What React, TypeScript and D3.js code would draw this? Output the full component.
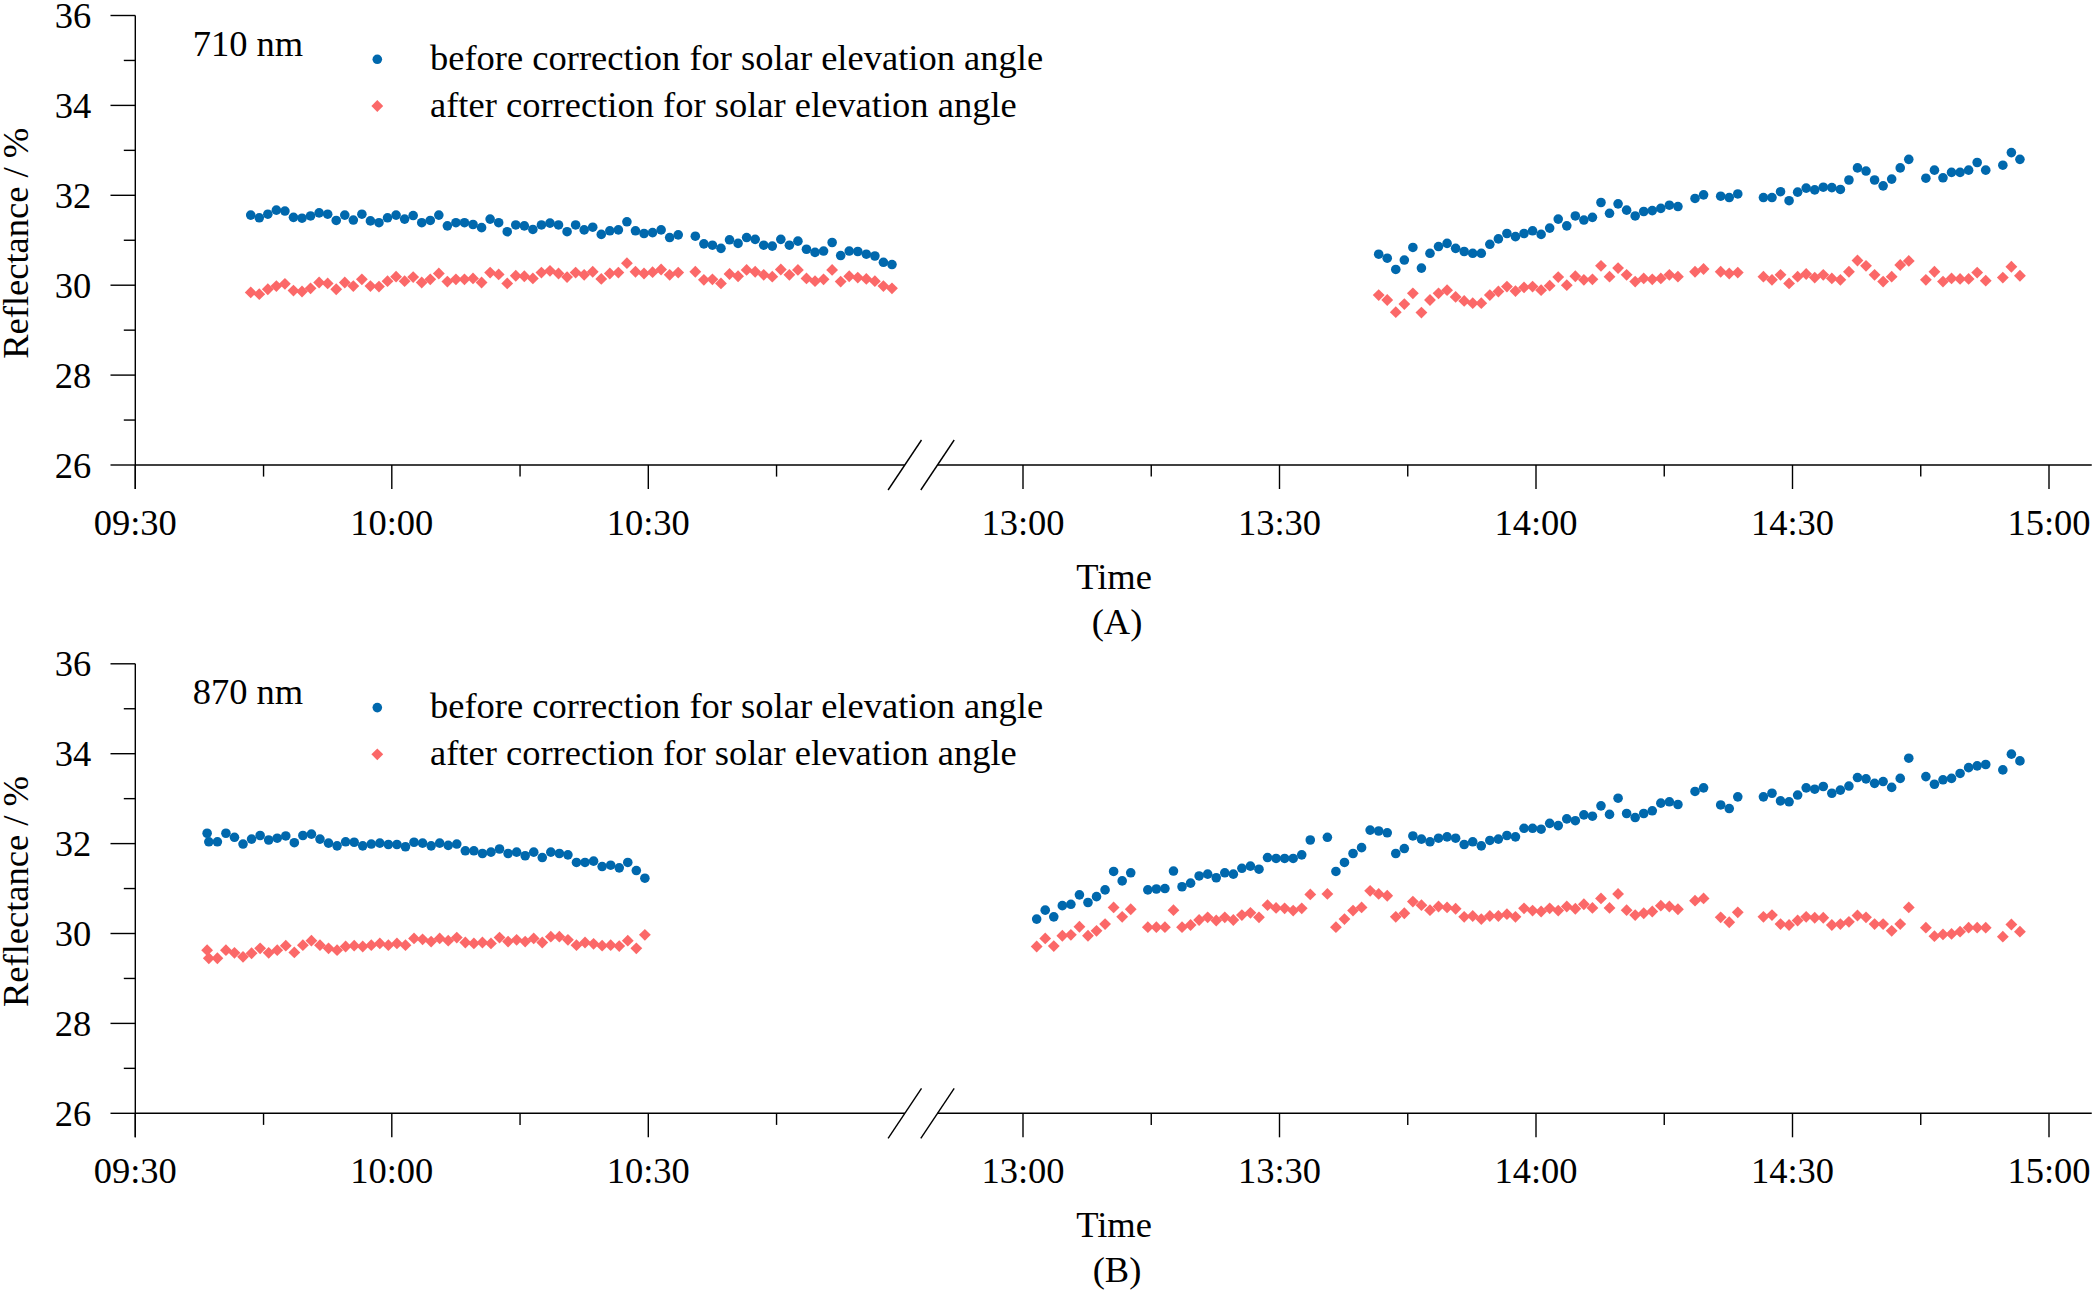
import * as d3 from "d3";
import { useEffect } from "react";

const W = 2092;
const H = 1293;

const BLUE = "#0068ad";
const RED = "#fb6868";
const FONT = "'Times New Roman', 'Liberation Serif', serif";
const FONT_SIZE = 36.5;

// axis labels
const X_MAJOR = ["09:30", "10:00", "10:30", "13:00", "13:30", "14:00", "14:30", "15:00"];
const X_MINOR = ["09:45", "10:15", "10:45", "13:15", "13:45", "14:15", "14:45"];
const Y_MAJOR = [26, 28, 30, 32, 34, 36];
const Y_MINOR = [27, 29, 31, 33, 35];
const SERIES_NAMES = [
  "before correction for solar elevation angle",
  "after correction for solar elevation angle",
];

// (A) 710 nm, morning run, one reading per minute (null = missing)
const A_AM_START = "09:43:30";
const A_AM_BEFORE = [
  31.56, 31.5, 31.58, 31.67, 31.65, 31.51, 31.49, 31.54, 31.61, 31.58,
  31.44, 31.56, 31.45, 31.58, 31.43, 31.39, 31.5, 31.56, 31.47, 31.55,
  31.39, 31.44, 31.56, 31.32, 31.39, 31.39, 31.35, 31.28, 31.47, 31.39,
  31.19, 31.34, 31.32, 31.24, 31.34, 31.38, 31.34, 31.19, 31.34, 31.23,
  31.29, 31.13, 31.21, 31.23, 31.41, 31.21, 31.15, 31.17, 31.23, 31.06,
  31.12, null, 31.09, 30.92, 30.89, 30.82, 31.01, 30.93, 31.06, 31.02,
  30.89, 30.87, 31.02, 30.89, 30.98, 30.8, 30.73, 30.76, 30.95, 30.66,
  30.76, 30.75, 30.69, 30.65, 30.51, 30.46,
];
const A_AM_AFTER = [
  29.84, 29.8, 29.91, 29.98, 30.03, 29.88, 29.86, 29.93, 30.06, 30.04,
  29.91, 30.06, 29.98, 30.13, 29.98, 29.97, 30.09, 30.19, 30.09, 30.18,
  30.06, 30.13, 30.26, 30.08, 30.13, 30.13, 30.15, 30.06, 30.28, 30.24,
  30.04, 30.21, 30.2, 30.15, 30.28, 30.32, 30.26, 30.18, 30.28, 30.23,
  30.3, 30.14, 30.26, 30.28, 30.49, 30.3, 30.26, 30.29, 30.35, 30.23,
  30.28, null, 30.3, 30.12, 30.13, 30.04, 30.25, 30.2, 30.34, 30.3,
  30.23, 30.19, 30.35, 30.23, 30.34, 30.15, 30.09, 30.13, 30.34, 30.08,
  30.2, 30.17, 30.14, 30.09, 29.98, 29.93,
];

// (A) 710 nm, afternoon run
const A_PM_START = "13:41:36";
const A_PM_BEFORE = [
  30.69, 30.6, 30.35, 30.56, 30.84, 30.38, 30.71, 30.86, 30.93, 30.82,
  30.75, 30.71, 30.71, 30.91, 31.03, 31.15, 31.08, 31.15, 31.21, 31.13,
  31.27, 31.47, 31.32, 31.54, 31.45, 31.51, 31.84, 31.6, 31.81, 31.67,
  31.54, 31.64, 31.66, 31.71, 31.78, 31.75, null, 31.93, 32.01, null,
  31.98, 31.95, 32.03, null, null, 31.95, 31.95, 32.08, 31.88, 32.07,
  32.16, 32.12, 32.18, 32.17, 32.13, 32.34, 32.61, 32.54, 32.34, 32.21,
  32.36, 32.61, 32.8, null, 32.38, 32.56, 32.39, 32.51, 32.51, 32.56,
  32.73, 32.56, null, 32.67, 32.95, 32.8,
];
const A_PM_AFTER = [
  29.78, 29.67, 29.4, 29.58, 29.82, 29.39, 29.67, 29.82, 29.89, 29.74,
  29.65, 29.6, 29.6, 29.78, 29.86, 29.97, 29.87, 29.95, 29.97, 29.89,
  29.99, 30.18, 30.0, 30.2, 30.12, 30.13, 30.43, 30.19, 30.38, 30.23,
  30.08, 30.15, 30.13, 30.15, 30.23, 30.19, null, 30.3, 30.36, null,
  30.3, 30.26, 30.28, null, null, 30.19, 30.12, 30.23, 30.04, 30.19,
  30.25, 30.17, 30.23, 30.15, 30.12, 30.3, 30.55, 30.43, 30.23, 30.08,
  30.19, 30.45, 30.54, null, 30.12, 30.3, 30.08, 30.15, 30.14, 30.14,
  30.28, 30.1, null, 30.17, 30.41, 30.21,
];

// (B) 870 nm, morning run (plus one extra reading just before the first one)
const B_AM_EXTRA_TIME = "09:38:24";
const B_AM_EXTRA_BEFORE = 32.23;
const B_AM_EXTRA_AFTER = 29.63;
const B_AM_START = "09:38:36";
const B_AM_BEFORE = [
  32.04, 32.04, 32.23, 32.14, 31.99, 32.1, 32.18, 32.08, 32.12, 32.17,
  32.02, 32.18, 32.21, 32.1, 32.01, 31.95, 32.04, 32.03, 31.95, 31.99,
  32.01, 31.98, 31.98, 31.93, 32.03, 32.01, 31.95, 32.01, 31.96, 31.99,
  31.84, 31.84, 31.78, 31.81, 31.88, 31.78, 31.81, 31.73, 31.81, 31.69,
  31.81, 31.78, 31.75, 31.58, 31.58, 31.61, 31.49, 31.52, 31.46, 31.58,
  31.4, 31.23,
];
const B_AM_AFTER = [
  29.45, 29.45, 29.63, 29.57, 29.48, 29.56, 29.67, 29.57, 29.63, 29.73,
  29.58, 29.74, 29.84, 29.74, 29.67, 29.63, 29.71, 29.73, 29.71, 29.74,
  29.78, 29.74, 29.78, 29.74, 29.89, 29.87, 29.82, 29.89, 29.84, 29.91,
  29.8, 29.78, 29.8, 29.78, 29.91, 29.82, 29.86, 29.82, 29.89, 29.8,
  29.93, 29.93, 29.86, 29.74, 29.8, 29.77, 29.73, 29.74, 29.72, 29.84,
  29.67, 29.97,
];

// (B) 870 nm, afternoon run
const B_PM_START = "13:01:36";
const B_PM_BEFORE = [
  30.32, 30.52, 30.37, 30.62, 30.65, 30.86, 30.69, 30.82, 30.97, 31.38,
  31.17, 31.35, null, 30.97, 30.99, 31.0, 31.39, 31.04, 31.12, 31.28,
  31.32, 31.24, 31.35, 31.32, 31.45, 31.5, 31.43, 31.69, 31.67, 31.67,
  31.67, 31.75, 32.08, null, 32.14, 31.38, 31.58, 31.78, 31.91, 32.3,
  32.28, 32.24, 31.78, 31.89, 32.17, 32.1, 32.04, 32.12, 32.15, 32.12,
  31.98, 32.04, 31.95, 32.07, 32.1, 32.18, 32.15, 32.34, 32.34, 32.32,
  32.45, 32.4, 32.55, 32.51, 32.64, 32.61, 32.84, 32.65, 33.01, 32.67,
  32.58, 32.67, 32.73, 32.9, 32.93, 32.87, null, 33.16, 33.24, null,
  32.86, 32.78, 33.04, null, null, 33.04, 33.12, 32.95, 32.93, 33.08,
  33.24, 33.21, 33.27, 33.12, 33.19, 33.28, 33.47, 33.44, 33.34, 33.38,
  33.25, 33.45, 33.9, null, 33.49, 33.32, 33.42, 33.45, 33.56, 33.69,
  33.73, 33.76, null, 33.64, 33.99, 33.84,
];
const B_PM_AFTER = [
  29.71, 29.89, 29.72, 29.95, 29.97, 30.15, 29.95, 30.06, 30.21, 30.58,
  30.37, 30.54, null, 30.14, 30.14, 30.14, 30.52, 30.14, 30.19, 30.3,
  30.36, 30.29, 30.36, 30.3, 30.41, 30.46, 30.36, 30.63, 30.57, 30.56,
  30.51, 30.56, 30.87, null, 30.88, 30.14, 30.32, 30.51, 30.58, 30.95,
  30.88, 30.84, 30.37, 30.45, 30.71, 30.63, 30.52, 30.6, 30.58, 30.55,
  30.37, 30.39, 30.32, 30.39, 30.39, 30.43, 30.37, 30.56, 30.51, 30.49,
  30.56, 30.51, 30.6, 30.55, 30.65, 30.57, 30.78, 30.57, 30.88, 30.52,
  30.41, 30.45, 30.49, 30.62, 30.6, 30.54, null, 30.73, 30.78, null,
  30.36, 30.25, 30.47, null, null, 30.37, 30.41, 30.21, 30.19, 30.29,
  30.37, 30.35, 30.35, 30.19, 30.21, 30.26, 30.4, 30.36, 30.21, 30.21,
  30.06, 30.21, 30.58, null, 30.13, 29.94, 29.98, 29.99, 30.04, 30.13,
  30.13, 30.13, null, 29.93, 30.2, 30.04,
];

type Pt = { t: number; v: number };
type Segment = { start: string; before: (number | null)[]; after: (number | null)[] };

const toMin = (s: string) => {
  const [h, m, sec = "0"] = s.split(":");
  return +h * 60 + +m + +sec / 60;
};

// broken time axis: 09:30-11:00 | 12:50-15:05
const xAm = d3.scaleLinear().domain([toMin("09:30"), toMin("11:00")]).range([135.3, 904.8]);
const xPm = d3.scaleLinear().domain([toMin("12:50"), toMin("15:05")]).range([937.5, 2091.75]);
const x = (t: number) => (t < 720 ? xAm(t) : xPm(t));

const seriesPoints = (segs: Segment[], key: "before" | "after"): Pt[] =>
  segs.flatMap((s) => {
    const t0 = toMin(s.start);
    return s[key]
      .map((v, i) => (v == null ? null : { t: t0 + i, v }))
      .filter((p): p is Pt => p !== null);
  });

const diamond = d3.symbol(d3.symbolSquare, 70)();

function Panel({
  offset,
  band,
  caption,
  segments,
  extra,
}: {
  offset: number;
  band: string;
  caption: string;
  segments: Segment[];
  extra: { before: Pt[]; after: Pt[] };
}) {
  const y = d3.scaleLinear().domain([26, 36]).range([465 + offset, 15.5 + offset]);
  const y0 = y(26);
  const ax = xAm.range()[0];
  const before = [...extra.before, ...seriesPoints(segments, "before")];
  const after = [...extra.after, ...seriesPoints(segments, "after")];
  const stroke = { stroke: "#000", strokeWidth: 1.4 };
  const breaks = [xAm.range()[1], xPm.range()[0]];
  const mid = (y(36) + y(26)) / 2 + 3;

  return (
    <g fontFamily={FONT} fontSize={FONT_SIZE} fill="#000">
      {/* y axis */}
      <line x1={ax} x2={ax} y1={y(36)} y2={y0 + 24} {...stroke} />
      {Y_MAJOR.map((v) => (
        <g key={"ym" + v}>
          <line x1={ax - 24.8} x2={ax} y1={y(v)} y2={y(v)} {...stroke} />
          <text x={ax - 44} y={y(v)} textAnchor="end" dominantBaseline="central">
            {v}
          </text>
        </g>
      ))}
      {Y_MINOR.map((v) => (
        <line key={"yn" + v} x1={ax - 11.5} x2={ax} y1={y(v)} y2={y(v)} {...stroke} />
      ))}
      <text transform={`translate(28,${mid}) rotate(-90)`} textAnchor="middle">
        Reflectance / %
      </text>

      {/* broken x axis */}
      <line x1={xAm.range()[0]} x2={xAm.range()[1]} y1={y0} y2={y0} {...stroke} />
      <line x1={xPm.range()[0]} x2={xPm.range()[1]} y1={y0} y2={y0} {...stroke} />
      {breaks.map((bx) => (
        <line key={"br" + bx} x1={bx - 16.7} x2={bx + 16.7} y1={y0 + 25} y2={y0 - 25} {...stroke} />
      ))}
      {X_MAJOR.map((s) => (
        <g key={"xm" + s}>
          <line x1={x(toMin(s))} x2={x(toMin(s))} y1={y0} y2={y0 + 24} {...stroke} />
          <text x={x(toMin(s))} y={y0 + 70} textAnchor="middle">
            {s}
          </text>
        </g>
      ))}
      {X_MINOR.map((s) => (
        <line key={"xn" + s} x1={x(toMin(s))} x2={x(toMin(s))} y1={y0} y2={y0 + 11.6} {...stroke} />
      ))}
      <text x={1114} y={y0 + 124} textAnchor="middle">
        Time
      </text>
      <text x={1117} y={y0 + 169} textAnchor="middle">
        {caption}
      </text>

      {/* band label and legend */}
      <text x={192.7} y={offset + 56}>
        {band}
      </text>
      <circle cx={377.3} cy={offset + 59.3} r={4.8} fill={BLUE} />
      <path d={diamond} transform={`translate(377.3,${offset + 106}) rotate(45)`} fill={RED} />
      <text x={430} y={offset + 70}>
        {SERIES_NAMES[0]}
      </text>
      <text x={430} y={offset + 116.7}>
        {SERIES_NAMES[1]}
      </text>

      {/* data */}
      {before.map((p, i) => (
        <circle key={"b" + i} cx={x(p.t)} cy={y(p.v)} r={4.8} fill={BLUE} />
      ))}
      {after.map((p, i) => (
        <path
          key={"a" + i}
          d={diamond}
          transform={`translate(${x(p.t)},${y(p.v)}) rotate(45)`}
          fill={RED}
        />
      ))}
    </g>
  );
}

export default function App() {
  useEffect(() => {
    document.body.style.margin = "0";
  }, []);

  const segA: Segment[] = [
    { start: A_AM_START, before: A_AM_BEFORE, after: A_AM_AFTER },
    { start: A_PM_START, before: A_PM_BEFORE, after: A_PM_AFTER },
  ];
  const segB: Segment[] = [
    { start: B_AM_START, before: B_AM_BEFORE, after: B_AM_AFTER },
    { start: B_PM_START, before: B_PM_BEFORE, after: B_PM_AFTER },
  ];
  const extraB = {
    before: [{ t: toMin(B_AM_EXTRA_TIME), v: B_AM_EXTRA_BEFORE }],
    after: [{ t: toMin(B_AM_EXTRA_TIME), v: B_AM_EXTRA_AFTER }],
  };

  return (
    <svg width={W} height={H} viewBox={`0 0 ${W} ${H}`} style={{ display: "block", background: "#fff" }}>
      <Panel offset={0} band="710 nm" caption="(A)" segments={segA} extra={{ before: [], after: [] }} />
      <Panel offset={648.3} band="870 nm" caption="(B)" segments={segB} extra={extraB} />
    </svg>
  );
}
